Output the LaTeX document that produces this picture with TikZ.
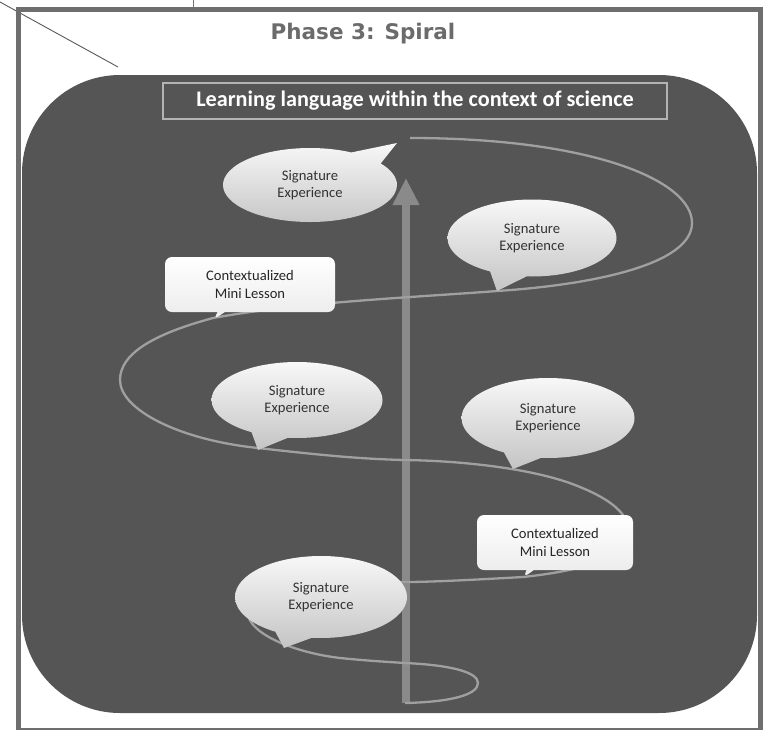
\documentclass[tikz,border=0pt]{standalone}
\usepackage{fontspec}
\setmainfont{Carlito}
\newfontfamily\headfont{DejaVu Sans}
\usetikzlibrary{shapes.callouts,arrows.meta}
\definecolor{framegray}{HTML}{6E6E6E}
\definecolor{panel}{HTML}{555555}
\definecolor{spiralgray}{HTML}{A0A0A0}
\definecolor{arrowgray}{HTML}{8A8A8A}
\definecolor{headgray}{HTML}{6B6B6B}
\definecolor{bubbletext}{HTML}{333333}
\definecolor{boxline}{HTML}{B4B4B4}
\tikzset{
  sigbubble/.style={ellipse callout, callout pointer arc=26, top color=white!97!black, bottom color=black!23,
    draw=none, text=bubbletext, align=center, inner sep=0pt,
    font=\fontsize{14.6}{17}\selectfont},
  minibox/.style={rectangle callout, rounded corners=7pt, top color=white, bottom color=black!8,
    draw=none, text=black!85, align=center, inner sep=0pt,
    font=\fontsize{14.6}{18}\selectfont, minimum height=55pt},
  spiralline/.style={draw=spiralgray, line width=2.3pt},
}
\begin{document}
\begin{tikzpicture}[x=1pt,y=-1pt]
\useasboundingbox (0,0) rectangle (766,729);
% leader lines above the frame
\coordinate (lead1a) at (0,2);
\coordinate (lead1b) at (118,67);
\coordinate (lead2a) at (193,0);
\coordinate (lead2b) at (193,7);
\draw[black!65, line width=0.9pt] (lead1a) -- (lead1b);
\draw[black!55, line width=0.8pt] (lead2a) -- (lead2b);
% dark panel
\fill[panel, rounded corners=98pt] (22,75) rectangle (757,713);
% frame
\draw[framegray, line width=5pt] (18.5,9.5) rectangle (760,730);
% heading
\node[text=headgray, font=\headfont\bfseries\fontsize{21.5}{24}\selectfont] (phase) at (363,34) {Phase 3: Spiral};
% title box
\node[draw=boxline, line width=1.3pt, minimum width=504pt, minimum height=36pt, inner sep=0pt,
  text=white, font=\bfseries\fontsize{22.2}{24}\selectfont] (titlebox) at (415,101)
  {Learning language within the context of science};
% arrow
\coordinate (abot) at (406,703);
\coordinate (atop) at (406,178);
\draw[arrowgray, line width=8pt, -{Triangle[width=25pt,length=27pt]}] (abot) -- (atop);
% spiral
\draw[spiralline] (410,138) .. controls (590,138) and (692,180) .. (692,223)
  .. controls (692,265) and (590,285) .. (497,291)
  .. controls (420,297) and (300,302) .. (213,318)
  .. controls (150,335) and (120,355) .. (120,380)
  .. controls (120,410) and (180,440) .. (258,448)
  .. controls (320,455) and (360,459) .. (405,460)
  .. controls (470,461) and (540,470) .. (580,487)
  .. controls (612,500) and (630,515) .. (630,535)
  .. controls (630,560) and (570,572) .. (523,577)
  .. controls (470,580) and (430,582) .. (405,582)
  .. controls (320,584) and (248,598) .. (248,613)
  .. controls (248,632) and (290,652) .. (340,658)
  .. controls (370,661) and (390,662) .. (405,663)
  .. controls (450,665) and (478,672) .. (478,683)
  .. controls (478,695) and (450,702) .. (405,703);
% signature experience bubbles
\node[sigbubble, minimum width=174pt, minimum height=74pt, callout absolute pointer={(397,143)}] (se1) at (310,185) {Signature\\Experience};
\node[sigbubble, minimum width=169pt, minimum height=77pt, callout absolute pointer={(497,291)}] (se2) at (532,238) {Signature\\Experience};
\node[sigbubble, minimum width=171pt, minimum height=76pt, callout absolute pointer={(258,450)}] (se3) at (297,400) {Signature\\Experience};
\node[sigbubble, minimum width=173pt, minimum height=80pt, callout absolute pointer={(513,469)}] (se4) at (548,418) {Signature\\Experience};
\node[sigbubble, minimum width=172pt, minimum height=82pt, callout absolute pointer={(284,648)}] (se5) at (321,597) {Signature\\Experience};
% mini lesson boxes
\node[minibox, minimum width=170pt, callout absolute pointer={(213,320)}] (ml1) at (250,284.5) {Contextualized\\Mini Lesson};
\node[minibox, minimum width=156pt, callout absolute pointer={(523,578)}] (ml2) at (555,542.5) {Contextualized\\Mini Lesson};
\end{tikzpicture}
\end{document}
